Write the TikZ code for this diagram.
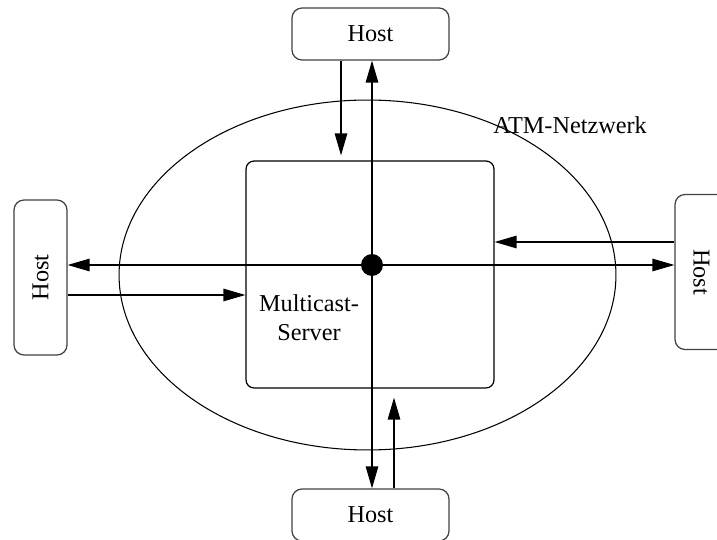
\documentclass[tikz,border=0pt]{standalone}
\usepackage{fontspec}
\setmainfont{Liberation Serif}
\usetikzlibrary{arrows.meta,positioning,calc}
\tikzset{
  hostbox/.style={draw=black!75,line width=0.7pt,rounded corners=0.2cm,align=center,
    font=\fontsize{13.8}{16.5}\selectfont},
  serverbox/.style={draw,line width=0.7pt,rounded corners=0.16cm},
  netellipse/.style={draw,line width=0.6pt},
  junction/.style={circle,fill=black,inner sep=0pt,minimum size=0.44cm},
  flowarrow/.style={-{Triangle[length=0.44cm,width=0.25cm]},line width=0.7pt},
  figurelabel/.style={font=\fontsize{13.8}{16.5}\selectfont,align=center}
}
\begin{document}
\begin{tikzpicture}[x=0.02cm,y=-0.02cm]
  \useasboundingbox (0,0) rectangle (717,540);
  \draw[netellipse] (367.5,275) ellipse [x radius=4.97cm,y radius=3.5cm];
  \node[serverbox,minimum width=4.96cm,minimum height=4.54cm] (server) at (370,274.5) {};
  \node[figurelabel] (servername) at (309,318) {Multicast-\\Server};
  \node[figurelabel] (netname) at (570,125) {ATM-Netzwerk};
  \node[junction] (hub) at (372,265) {};
  \node[hostbox,minimum width=3.14cm,minimum height=1.04cm] (tophost) at (370.5,34) {Host};
  \node[hostbox,minimum width=3.14cm,minimum height=1.04cm] (bottomhost) at (370.5,515) {Host};
  \node[hostbox,minimum width=1.06cm,minimum height=3.1cm] (lefthost) at (40.5,277.5) {\rotatebox{90}{Host}};
  \node[hostbox,minimum width=1.06cm,minimum height=3.1cm] (righthost) at (701.5,272) {\rotatebox{-90}{Host}};
  % zum Server
  \draw[flowarrow,shorten >=0.1cm] ([xshift=-0.59cm]tophost.south) -- ([xshift=-0.59cm]tophost.south |- server.north);
  \draw[flowarrow] ([yshift=-0.35cm]lefthost.east) -- ([yshift=-0.35cm]lefthost.east -| server.west);
  \draw[flowarrow] ([yshift=0.6cm]righthost.west) -- ([yshift=0.6cm]righthost.west -| server.east);
  \draw[flowarrow,shorten >=0.18cm] ([xshift=0.47cm]bottomhost.north) -- ([xshift=0.47cm]bottomhost.north |- server.south);
  % vom Server
  \foreach \h/\a in {tophost/south,bottomhost/north}
    \draw[flowarrow] (hub) -- (hub |- \h.\a);
  \foreach \h/\a in {lefthost/east,righthost/west}
    \draw[flowarrow] (hub) -- (hub -| \h.\a);
\end{tikzpicture}
\end{document}
